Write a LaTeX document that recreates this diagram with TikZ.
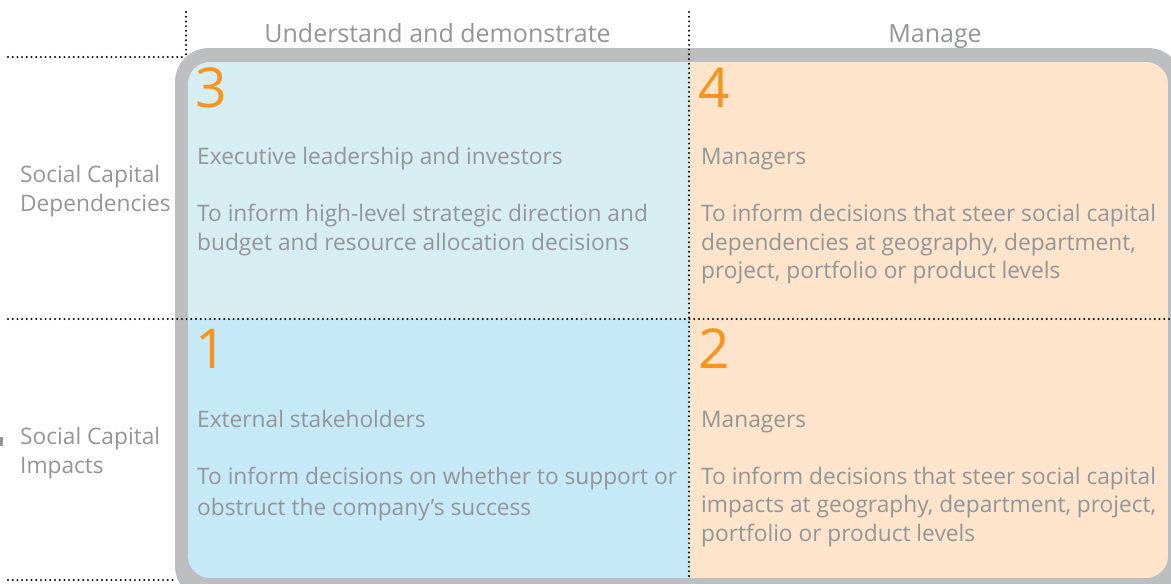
\documentclass[tikz,border=0pt]{standalone}
\usepackage{fontspec}
\setmainfont{Open Sans}
\definecolor{txtgray}{HTML}{939598}
\definecolor{framegray}{HTML}{BCBEC0}
\definecolor{numorange}{HTML}{F7941D}
\definecolor{qthree}{HTML}{D6EDF2}
\definecolor{qone}{HTML}{C6E9F8}
\definecolor{qright}{HTML}{FDE4CA}
\tikzset{
  dotline/.style={line width=2.2pt, dash pattern=on 0pt off 4.7pt, line cap=round, black},
  bodytext/.style={anchor=base west, inner sep=0pt, text=txtgray, align=left, font=\fontsize{22.7}{28.5}\selectfont},
  headtext/.style={anchor=base, inner sep=0pt, text=txtgray, font=\fontsize{25}{30}\selectfont},
  numtext/.style={anchor=base west, inner sep=0pt, text=numorange, font=\fontsize{55}{60}\selectfont},
}
\begin{document}
\begin{tikzpicture}[x=1pt,y=-1pt]
\useasboundingbox (0,0) rectangle (1171,584);
\clip (0,0) rectangle (1171,584);
% frame
\fill[framegray, rounded corners=34pt] (175,48) rectangle (1182,600);
\begin{scope}
  \clip[rounded corners=22pt] (188,62) rectangle (1168,578);
  \fill[qthree] (188,62) rectangle (689,319);
  \fill[qone] (188,319) rectangle (689,578);
  \fill[qright] (689,62) rectangle (1168,578);
\end{scope}
% small mark
\fill[txtgray] (0,437) rectangle (3,446);
% dotted grid
\coordinate (tl1) at (8,57);
\coordinate (tl2) at (186,57);
\coordinate (tv1) at (186,12);
\coordinate (mv1) at (689,12);
\coordinate (mv2) at (689,580);
\coordinate (mh1) at (8,319);
\coordinate (mh2) at (1171,319);
\coordinate (bh1) at (8,580);
\coordinate (bh2) at (175,580);
\draw[dotline] (tl1) -- (tl2);
\draw[dotline] (tv1) -- (tl2);
\draw[dotline] (mv1) -- (mv2);
\draw[dotline] (mh1) -- (mh2);
\draw[dotline] (bh1) -- (bh2);
% headers
\node[headtext] (hu) at (437.5,42) {Understand and demonstrate};
\node[headtext] (hm) at (935,42) {Manage};
% row labels (base anchor = last line)
\node[bodytext] (rd) at (20,211) {Social Capital\\Dependencies};
\node[bodytext] (ri) at (20,473) {Social Capital\\Impacts};
% numbers
\node[numtext] (n3) at (195,107) {3};
\node[numtext] (n4) at (698,107) {4};
\node[numtext] (n1) at (195,368) {1};
\node[numtext] (n2) at (698,368) {2};
% quadrant 3
\node[bodytext] (q3a) at (197,164) {Executive leadership and investors};
\node[bodytext] (q3b) at (197,250) {To inform high-level strategic direction and\\budget and resource allocation decisions};
% quadrant 4
\node[bodytext] (q4a) at (701,164) {Managers};
\node[bodytext] (q4b) at (701,278.5) {To inform decisions that steer social capital\\dependencies at geography, department,\\project, portfolio or product levels};
% quadrant 1
\node[bodytext] (q1a) at (197,427) {External stakeholders};
\node[bodytext, font=\fontsize{22.7}{31}\selectfont] (q1b) at (197,515) {To inform decisions on whether to support or\\obstruct the company’s success};
% quadrant 2
\node[bodytext] (q2a) at (701,427) {Managers};
\node[bodytext] (q2b) at (701,541) {To inform decisions that steer social capital\\impacts at geography, department, project,\\portfolio or product levels};
\end{tikzpicture}
\end{document}
